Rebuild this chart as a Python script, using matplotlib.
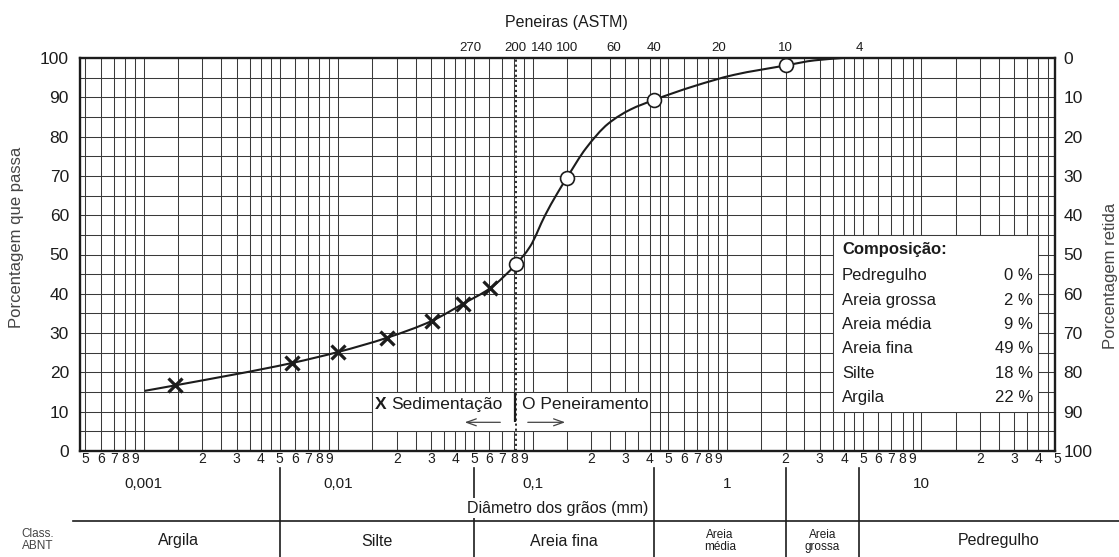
import numpy as np
import matplotlib
matplotlib.use("Agg")
import matplotlib.pyplot as plt
from matplotlib.path import Path
from matplotlib.patches import PathPatch, Rectangle
from matplotlib.lines import Line2D
from matplotlib.ticker import NullLocator
from matplotlib.transforms import blended_transform_factory

plt.rcParams['font.family'] = ['Liberation Sans', 'DejaVu Sans']

# ---------------- data ----------------
sed_diam = [0.00145, 0.0058, 0.0100, 0.0178, 0.0303, 0.0440, 0.0604]
sed_pass = [16.7, 22.4, 25.2, 28.8, 33.1, 37.5, 41.4]

sieve_diam = [0.082, 0.15, 0.42, 2.0]
sieve_pass = [47.5, 69.5, 89.3, 98.1]

curve_diam = [0.00101, 0.00145, 0.0058, 0.0100, 0.0178, 0.0303, 0.0440, 0.0604,
              0.082, 0.097, 0.116, 0.133, 0.15, 0.188, 0.245, 0.319, 0.42,
              0.673, 1.084, 2.0, 2.82, 3.93]
curve_pass = [15.3, 16.7, 22.4, 25.2, 28.8, 33.1, 37.5, 41.4,
              47.5, 52.0, 60.0, 65.3, 69.5, 77.0, 83.3, 86.9, 89.3,
              92.8, 95.7, 98.1, 99.4, 100.0]

sieve_labels = ['270', '200', '140', '100', '60', '40', '20', '10', '4']
sieve_label_pos = [0.048, 0.082, 0.112, 0.15, 0.26, 0.42, 0.91, 2.0, 4.8]

abnt_bounds = [0.005, 0.05, 0.42, 2.0, 4.8]
abnt_classes = ['Argila', 'Silte', 'Areia fina', 'Areia\nmédia', 'Areia\ngrossa', 'Pedregulho']
abnt_label_pos = [0.0015, 0.0158, 0.145, 0.92, 3.1, 25.0]

comp_names = ['Pedregulho', 'Areia grossa', 'Areia média', 'Areia fina', 'Silte', 'Argila']
comp_values = [0, 2, 9, 49, 18, 22]

decade_values = [0.001, 0.01, 0.1, 1, 10]
decade_labels = ['0,001', '0,01', '0,1', '1', '10']
tick_digits = [2, 3, 4, 5, 6, 7, 8, 9]
decade_bases = [0.0001, 0.001, 0.01, 0.1, 1, 10]
grid_mult = [1, 1.5, 2, 2.5, 3, 3.5, 4, 4.5, 5, 6, 7, 8, 9]

# ---------------- figure ----------------
W, H = 1119, 557
def fx(px): return px / W
def fy(py): return 1 - py / H

INK = '#1c1c1c'
GRID = '#3a3a3a'

fig = plt.figure(figsize=(W / 100, H / 100), dpi=100)
ax = fig.add_axes([fx(80), fy(451), fx(1055) - fx(80), fy(58) - fy(451)])
ax.set_xscale('log')
xmin, xmax = 10 ** -3.328, 10 ** 1.687
ymin, ymax = 0, 100

# grid
gx = [b * m for b in decade_bases for m in grid_mult if xmin < b * m < xmax]
ax.vlines(gx, 0, 100, color=GRID, lw=0.75, zorder=1)
ax.hlines(np.arange(5, 100, 5), xmin, xmax, color=GRID, lw=0.75, zorder=1)

# white boxes
ax.add_patch(Rectangle((3.5, 10), 40 - 3.5, 45, facecolor='white',
                       edgecolor=GRID, lw=0.75, zorder=2))
ax.add_patch(Rectangle((0.015, 5), 0.40 - 0.015, 10, facecolor='white',
                       edgecolor=GRID, lw=0.75, zorder=2))

# sieve #200 dotted line
ax.vlines(sieve_label_pos[1], 0, 100, color=INK, lw=1.3,
          linestyles=(0, (1.2, 1.6)), zorder=3)

# smooth monotone curve through the read points (log-x space, cubic Bezier segments)
def monotone_path(xs, ys):
    x = np.log10(np.asarray(xs, float))
    y = np.asarray(ys, float)
    h = np.diff(x)
    dl = np.diff(y) / h
    m = np.zeros_like(x)
    m[0], m[-1] = dl[0], dl[-1]
    for k in range(1, len(x) - 1):
        if dl[k - 1] * dl[k] <= 0:
            m[k] = 0.0
        else:
            w1 = 2 * h[k] + h[k - 1]
            w2 = h[k] + 2 * h[k - 1]
            m[k] = (w1 + w2) / (w1 / dl[k - 1] + w2 / dl[k])
    verts = [(x[0], y[0])]
    codes = [Path.MOVETO]
    for k in range(len(x) - 1):
        verts += [(x[k] + h[k] / 3, y[k] + m[k] * h[k] / 3),
                  (x[k + 1] - h[k] / 3, y[k + 1] - m[k + 1] * h[k] / 3),
                  (x[k + 1], y[k + 1])]
        codes += [Path.CURVE4] * 3
    verts = np.array(verts)
    verts[:, 0] = 10 ** verts[:, 0]
    return Path(verts, codes)

ax.add_patch(PathPatch(monotone_path(curve_diam, curve_pass), facecolor='none',
                       edgecolor=INK, lw=1.5, zorder=4))

ax.plot(sed_diam, sed_pass, linestyle='none', marker='x', ms=9.5, mew=2.3,
        color=INK, zorder=5)
ax.plot(sieve_diam, sieve_pass, linestyle='none', marker='o', ms=10,
        mfc='white', mec=INK, mew=1.2, zorder=6)

# legend inside the sedimentation box
ax.text(0.0155, 11.8, 'X', fontsize=12.5, fontweight='bold', color=INK,
        va='center', ha='left', zorder=7)
ax.text(0.0187, 11.8, 'Sedimentação', fontsize=12.5, color=INK,
        va='center', ha='left', zorder=7)
ax.text(0.0885, 11.8, 'O Peneiramento', fontsize=12.5, color=INK,
        va='center', ha='left', zorder=7)
ax.vlines(0.0812, 7.4, 14.7, color=INK, lw=1.6, zorder=7)
ax.annotate('', xy=(0.0433, 7.3), xytext=(0.0705, 7.3),
            arrowprops=dict(arrowstyle='->,head_length=0.7,head_width=0.25',
                            lw=0.9, color='#444'), zorder=7)
ax.annotate('', xy=(0.152, 7.3), xytext=(0.0914, 7.3),
            arrowprops=dict(arrowstyle='->,head_length=0.7,head_width=0.25',
                            lw=0.9, color='#444'), zorder=7)

# composition box text
ax.text(3.9, 51.2, 'Composição:', fontsize=12, fontweight='bold', color=INK,
        va='center', ha='left', zorder=7)
row_y = [44.6, 38.4, 32.2, 26.0, 19.8, 13.6]
for name, val, yy in zip(comp_names, comp_values, row_y):
    ax.text(3.9, yy, name, fontsize=12, color=INK, va='center', ha='left', zorder=7)
    ax.text(37.5, yy, f'{val} %', fontsize=12, color=INK, va='center', ha='right', zorder=7)

# axes styling
ax.xaxis.set_major_locator(NullLocator())
ax.xaxis.set_minor_locator(NullLocator())
ax.set_yticks(np.arange(0, 101, 10))
ax.tick_params(axis='y', length=0, pad=8, labelsize=12.5, labelcolor=INK)
for s in ax.spines.values():
    s.set_linewidth(1.7)
    s.set_color(INK)
    s.set_zorder(8)

sec = ax.secondary_yaxis('right', functions=(lambda y: 100 - y, lambda y: 100 - y))
sec.set_yticks(np.arange(0, 101, 10))
sec.tick_params(axis='y', length=0, pad=6, labelsize=12.5, labelcolor=INK)
sec.spines['right'].set_visible(False)

ax.set_xlim(xmin, xmax)
ax.set_ylim(ymin, ymax)

trans_xfig = blended_transform_factory(ax.transData, fig.transFigure)

# bottom digit tick labels
for b in decade_bases:
    for d in tick_digits:
        v = b * d
        if 4.9e-4 <= v <= 50.1:
            ax.text(v, fy(459), str(d), transform=trans_xfig, ha='center',
                    va='center', fontsize=10, color=INK, clip_on=False)

# decade labels
for v, lab in zip(decade_values, decade_labels):
    ax.text(v, fy(484), lab, transform=trans_xfig, ha='center', va='center',
            fontsize=11, color=INK, clip_on=False)

# top sieve labels
for v, lab in zip(sieve_label_pos, sieve_labels):
    ax.text(v, fy(48), lab, transform=trans_xfig, ha='center', va='center',
            fontsize=9.5, color=INK, clip_on=False)

fig.text(fx(566), fy(22), 'Peneiras (ASTM)', ha='center', va='center',
         fontsize=11.5, color=INK)

# ABNT classification band
for b in abnt_bounds:
    ax.add_line(Line2D([b, b], [fy(468), 0], transform=trans_xfig, color=INK,
                       lw=1.2, clip_on=False))
fig.add_artist(Line2D([fx(73), 1], [fy(521), fy(521)], transform=fig.transFigure,
                      color=INK, lw=1.2))
for v, lab in zip(abnt_label_pos, abnt_classes):
    small = '\n' in lab
    ax.text(v, fy(541), lab, transform=trans_xfig, ha='center', va='center',
            fontsize=8.5 if small else 11.5, linespacing=0.95, color=INK,
            clip_on=False)
fig.text(fx(38), fy(540), 'Class.\nABNT', ha='center', va='center', fontsize=8.5,
         color='#444', linespacing=1.0)

fig.text(fx(558), fy(508), 'Diâmetro dos grãos (mm)', ha='center', va='center',
         fontsize=11.5, color=INK, zorder=10,
         bbox=dict(facecolor='white', edgecolor='none', pad=1.5))

# axis titles
fig.text(fx(17), fy(237), 'Porcentagem que passa', rotation=90, ha='center',
         va='center', fontsize=12, color='#444')
fig.text(fx(1111), fy(276), 'Porcentagem retida', rotation=90, ha='center',
         va='center', fontsize=12, color='#444')

fig.savefig('out.png', dpi=100, facecolor='white')
